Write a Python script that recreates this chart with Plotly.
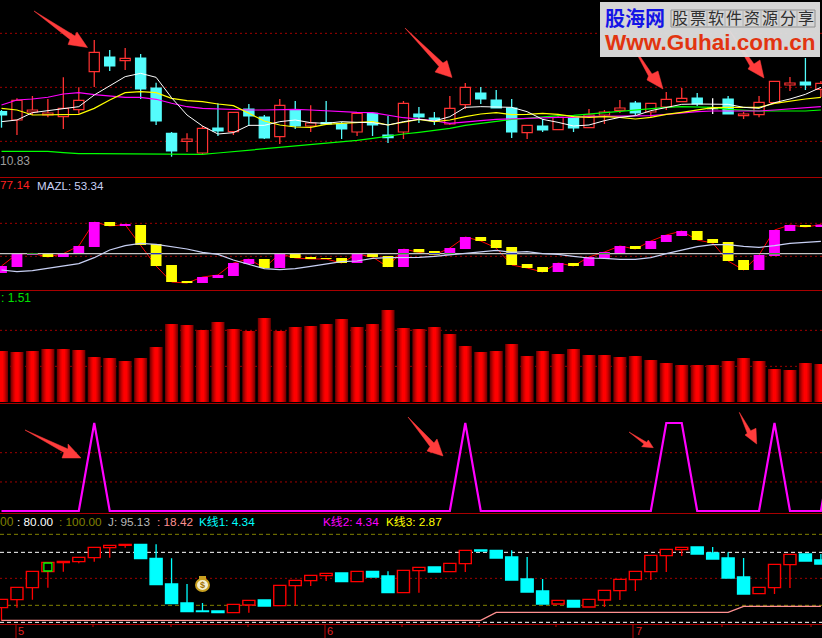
import plotly.graph_objects as go

# ---------- price panel ----------
kind1 = ["C","R","R","R","R","R","R","C","R","C","C","C","R","R","C","R","C","C","R","C","R","C","C","R","C","C","R",
         "C","C","R","R","C","C","C","R","C","R","C","R","R","R","C","R","R","R","C","W","C","R","R","R","R","C","R"]
top1 = [196,230,201,192,206,230,374,360,356,357,267,131,114,146,147,194,204,180,215,202,162,163,159,191,191,126,221,
        189,177,206,269,252,231,207,155,153,179,179,186,195,207,222,221,233,236,237,207,234,189,224,287,282,285,281]
bot1 = [186,171,195,186,181,202,316,333,349,264,168,78,107,72,138,136,183,117,121,153,153,159,144,135,156,118,135,
        180,169,159,217,234,207,135,133,141,142,147,148,186,200,192,195,210,226,219,205,189,184,187,223,276,276,263]
high1 = [201,236,243,234,299,269,411,381,387,369,283,135,131,153,221,194,219,186,234,228,215,228,166,195,195,183,228,
         210,195,243,282,270,261,234,155,174,186,186,204,201,231,228,221,255,267,252,236,243,195,243,287,300,357,288]
low1 = [148,126,186,179,144,190,270,318,321,234,156,61,75,68,123,126,153,114,99,144,135,156,114,123,123,102,114,
        162,156,156,204,219,207,117,114,135,142,135,148,159,192,186,179,201,226,213,189,189,174,179,223,258,261,240]
ma_white = [166,171,193,199,206,211,246,273,301,311,299,238,186,153,129,133,155,155,166,171,163,161,166,164,163,156,166,
            173,168,181,209,211,211,209,196,173,164,153,156,169,179,184,199,209,218,219,219,218,209,206,223,234,248,269]
ma_yellow = [206,201,186,186,186,188,206,231,253,256,253,236,229,226,219,214,191,168,156,150,149,158,161,164,166,156,165,
             173,166,171,181,189,193,187,188,191,188,181,179,181,179,174,179,188,194,201,208,209,209,209,221,228,234,239]
ma_magenta = [216,231,234,239,249,253,247,242,239,239,233,221,211,206,204,203,201,201,203,203,201,198,196,194,193,185,178,
              174,169,161,166,169,173,175,176,178,179,179,182,182,182,184,184,188,193,196,198,198,198,198,201,204,207,211]
ma_green = [77,77,77,77,73,70,70,70,70,70,70,68,68,68,72,76,81,86,90,94,98,101,104,110,116,123,129,
            134,139,146,155,161,168,173,176,181,184,185,189,194,198,203,205,209,211,211,209,203,200,198,198,198,198,201]

# ---------- MAZL panel ----------
kind2 = ["M","M","M","Y","M","M","M","Y","M","Y","Y","Y","Y","M","M","M","M","Y","M","Y","Y","Y","Y","M","Y","Y","M",
         "Y","Y","M","M","Y","Y","Y","Y","Y","M","Y","M","M","M","Y","M","M","M","Y","Y","Y","Y","M","M","M","Y","M"]
top2 = [72,108,110,109,109,132,204,204,196,195,138,75,27,39,45,81,93,93,109,108,99,96,96,108,108,102,123,
        123,117,126,159,159,150,129,78,69,81,81,99,114,132,132,147,165,177,177,153,144,90,105,180,195,195,196]
bot2 = [51,69,105,99,99,109,129,192,193,135,72,24,21,21,36,42,78,66,66,96,93,93,81,81,99,69,69,
        113,105,105,123,147,126,75,66,54,54,72,72,96,110,123,123,144,162,150,141,87,60,60,102,177,189,189]
mazl = [60,55,58,65,71,79,97,120,133,140,137,131,123,113,107,90,77,64,61,64,71,78,85,87,95,97,97,
        98,101,105,109,115,119,113,115,109,107,101,96,95,92,92,97,109,120,130,136,136,131,128,133,140,143,146]

# ---------- volume panel ----------
volume = [153,150,153,159,159,156,135,132,123,132,165,234,231,216,240,219,213,252,213,225,228,234,249,225,234,276,222,
          219,225,204,168,150,153,174,138,153,144,159,141,141,135,138,126,117,111,111,111,123,132,123,99,96,117,114]

# ---------- signal panel ----------
signal = [0,0,0,0,0,0,1,0,0,0,0,0,0,0,0,0,0,0,0,0,0,0,0,0,0,0,0,0,0,0,1,0,0,0,0,0,0,0,0,0,0,0,0,1,1,0,0,0,0,0,1,0,0,0,1]

# ---------- KDJ panel ----------
kind5 = ["R","R","R","R","R","R","R","R","R","C","C","C","C","C","C","R","R","C","R","R","R","R","C","R","C","C","R",
         "R","C","R","R","C","C","C","C","C","R","C","R","R","R","R","R","R","R","C","C","C","C","R","R","R","C","C"]
top5 = [74,110,158,185,188,200,230,236,239,239,197,120,63,39,39,59,71,72,116,131,146,152,153,158,158,144,161,
        170,171,182,221,222,221,201,135,99,71,71,74,101,134,158,206,224,230,231,213,198,141,110,179,209,210,192]
bot5 = [49,73,109,157,184,187,199,229,236,196,118,61,37,37,34,34,57,54,55,115,130,145,127,127,141,94,94,
        160,156,157,181,219,198,132,96,60,60,51,51,72,100,133,157,205,223,210,195,138,90,91,109,178,189,180]
high5 = [74,110,158,185,188,200,230,236,239,239,239,197,120,63,39,59,71,72,116,131,146,152,153,158,158,158,161,
         170,171,182,221,222,221,221,201,135,71,71,74,101,134,158,206,224,230,231,231,215,198,110,179,209,210,210]
low5 = [10,49,73,109,157,182,187,199,229,196,118,61,37,37,34,34,34,54,55,55,114,129,127,127,141,94,94,
        94,156,157,156,219,198,132,96,60,60,51,51,51,72,99,132,156,204,210,195,138,90,91,90,108,189,180]
level5 = [11]*32 + [35]*16 + [53]*6

# ---------- text ----------
axis_labels = ["5", "6", "7"]
logo_cn = "股海网"
logo_cells = list("股票软件资源分享")
logo_url = "Www.Guhai.com.cn"

W, H = 822, 638
FONT = "Liberation Sans, Noto Sans CJK SC, sans-serif"
n = len(top1)
xs = list(range(n))
XR = [-1.5 / 15.46, (W - 1.5) / 15.46]

def px(x): return x / W
def py(y): return 1 - y / H
def dom(t, b): return [1 - b / H, 1 - t / H]

fig = go.Figure()

def wicks(tops, bots, highs, lows, kinds, want):
    wx, wy = [], []
    for i in xs:
        if kinds[i] != want:
            continue
        if highs[i] > tops[i]:
            wx += [i, i, None]; wy += [tops[i], highs[i], None]
        if lows[i] < bots[i]:
            wx += [i, i, None]; wy += [bots[i], lows[i], None]
    return wx, wy

def candles(tops, bots, highs, lows, kinds, axis, width, lw, pal):
    fill = [pal[k][0] for k in kinds]
    edge = [pal[k][1] for k in kinds]
    fig.add_bar(x=xs, y=[a - b for a, b in zip(tops, bots)], base=bots, width=width, yaxis=axis,
                marker=dict(color=fill, line=dict(color=edge, width=lw)))
    for k in pal:
        wx, wy = wicks(tops, bots, highs, lows, kinds, k)
        if wx:
            fig.add_scatter(x=wx, y=wy, mode="lines", yaxis=axis,
                            line=dict(color=pal[k][1], width=1.3))

# Panel 1
candles(top1, bot1, high1, low1, kind1, "y", 0.66, 1.2,
        {"R": ("#000000", "#ff3232"), "C": ("#54fcfc", "#54fcfc"), "W": ("#ffffff", "#ffffff")})
for vals, col, w in [(ma_green, "#00ff00", 1.2), (ma_magenta, "#ff00ff", 1.1),
                     (ma_yellow, "#ffff00", 1.2), (ma_white, "#ffffff", 1.0)]:
    fig.add_scatter(x=xs, y=vals, mode="lines", yaxis="y", line=dict(color=col, width=w))

# Panel 2: close line on the base axis, bars above it on an overlay axis
close2 = [t if k == "M" else b for t, b, k in zip(top2, bot2, kind2)]
fig.add_scatter(x=xs, y=close2, mode="lines", yaxis="y2", line=dict(color="#ff0000", width=1))
fig.add_bar(x=xs, y=[a - b for a, b in zip(top2, bot2)], base=bot2, width=0.7, yaxis="y6",
            marker=dict(color=["#ff00ff" if k == "M" else "#ffff00" for k in kind2], line=dict(width=0)))
ZERO2 = 109
fig.add_scatter(x=[-1, 60], y=[ZERO2, ZERO2], mode="lines", yaxis="y6", line=dict(color="#c4c4c4", width=1.3))
for want, col in [("M", "#2f9f2f"), ("Y", "#2030c0")]:
    sx, sy = [], []
    for i in xs:
        if kind2[i] == want and bot2[i] < ZERO2 < top2[i]:
            sx += [i - 0.35, i + 0.35, None]; sy += [ZERO2, ZERO2, None]
    fig.add_scatter(x=sx, y=sy, mode="lines", yaxis="y6", line=dict(color=col, width=1.3))
fig.add_scatter(x=xs, y=mazl, mode="lines", yaxis="y6", line=dict(color="#c8d0f4", width=1.2))

# Panel 3: overlaid bars of falling width give the cylinder shading
for wd, col in [(0.84, "#7a0000"), (0.72, "#960000"), (0.6, "#b40000"), (0.48, "#d00000"), (0.36, "#e80000"), (0.22, "#ff0000")]:
    fig.add_bar(x=xs, y=volume, width=wd, yaxis="y3", marker=dict(color=col, line=dict(width=0)))

# Panel 4
fig.add_scatter(x=list(range(len(signal))), y=signal, mode="lines", yaxis="y4", line=dict(color="#ff00ff", width=2.2))

# Panel 5
candles(top5, bot5, high5, low5, kind5, "y5", 0.78, 1.4,
        {"R": ("#000000", "#ff0000"), "C": ("#00ffff", "#00ffff")})
fig.add_scatter(x=xs, y=level5, mode="lines", yaxis="y5", line=dict(color="#ff9090", width=1.4))
fig.add_scatter(x=[3], y=[171], mode="markers", yaxis="y5",
                marker=dict(symbol="square-open", size=8, color="#00ff00", line=dict(color="#00ff00", width=1.3)))

shapes = []
def grid(axis, val, col, dash="2px,3px", w=1):
    shapes.append(dict(type="line", xref="paper", yref=axis, x0=0, x1=1, y0=val, y1=val, layer="below",
                       line=dict(color=col, width=w, dash=dash)))

DOT = "#a00000"
for v in (431, 269, 107): grid("y", v, DOT)
for v in (200, 101): grid("y6", v, DOT)
for v in (215, 107): grid("y3", v, DOT)
for v in (0.6625, 0.33): grid("y4", v, DOT)
grid("y5", 137, DOT)
for v in (269, 56): grid("y5", v, "#808000", "4px,3px")
for v in (215, 5): grid("y5", v, "#ffffff", "4px,3px")

# panel separators
for y in (177.5, 290.5, 403.5, 513.5, 624.5):
    shapes.append(dict(type="line", xref="paper", yref="paper", x0=0, x1=1, y0=py(y), y1=py(y),
                       line=dict(color="#a80000", width=1)))
# date ticks
for x in (16, 325, 633):
    shapes.append(dict(type="line", xref="paper", yref="paper", x0=px(x), x1=px(x), y0=py(624), y1=py(638),
                       line=dict(color="#c00000", width=1)))
for x in (93, 171, 248, 402, 479, 556, 722, 811):
    shapes.append(dict(type="line", xref="paper", yref="paper", x0=px(x), x1=px(x), y0=py(624), y1=py(627),
                       line=dict(color="#c00000", width=1)))

# hand-drawn arrows
arrows = [
    [(34, 11), (75, 36), (77, 32), (87.5, 47.5), (68, 44.5), (70, 39.5)],
    [(405, 28), (443, 63), (447, 60.5), (452, 77.5), (435, 72), (439, 66.5)],
    [(631, 43), (652, 74), (658, 71), (663, 89), (647, 80), (648.5, 76)],
    [(728, 28), (754, 64), (760, 60), (764, 78), (748, 69), (750, 66)],
    [(25, 430), (68, 449), (68, 444), (81, 458), (62, 458), (64, 452.5)],
    [(408, 417), (434, 443), (437, 439), (443, 456), (427, 451), (430, 446.5)],
    [(629, 432), (646.7, 442.3), (648.3, 440), (653.3, 447.7), (641.7, 446.7), (644, 444)],
    [(739.3, 412.3), (750.7, 430.7), (756, 428.3), (756.7, 444), (745, 435), (747.3, 433.3)],
]
for a in arrows:
    path = "M " + " L ".join(f"{px(x):.5f} {py(y):.5f}" for x, y in a) + " Z"
    shapes.append(dict(type="path", xref="paper", yref="paper", path=path, fillcolor="#ff3c3c",
                       line=dict(color="#ff3c3c", width=0.5)))

# money bag
shapes.append(dict(type="circle", xref="paper", yref="paper", x0=px(196), x1=px(209), y0=py(591), y1=py(579),
                   fillcolor="#f4f0d0", line=dict(color="#c8a020", width=2)))
shapes.append(dict(type="rect", xref="paper", yref="paper", x0=px(199), x1=px(206), y0=py(579), y1=py(576),
                   fillcolor="#c8a020", line=dict(width=0)))

# watermark plate
shapes.append(dict(type="rect", xref="paper", yref="paper", x0=px(600), x1=px(820), y0=py(57), y1=py(2),
                   fillcolor="#dedede", opacity=0.96, line=dict(width=0)))
shapes.append(dict(type="rect", xref="paper", yref="paper", x0=px(671), x1=px(815), y0=py(27), y1=py(10),
                   line=dict(color="#909090", width=1)))
for c in range(1, 8):
    shapes.append(dict(type="line", xref="paper", yref="paper", x0=px(671 + 18 * c), x1=px(671 + 18 * c), y0=py(27), y1=py(10),
                       line=dict(color="#b0b0b0", width=1)))

ann = []
def text(x, y, s, col, size=12, anchor="left", bold=False):
    ann.append(dict(xref="paper", yref="paper", x=px(x), y=py(y), text=f"<b>{s}</b>" if bold else s, showarrow=False,
                    xanchor=anchor, yanchor="middle", font=dict(family=FONT, size=size, color=col)))

text(-2, 161, "10.83", "#9c9c9c", 12)
text(-2, 185, "77.14", "#ff2020", 11.8)
text(35, 185, "MAZL: 53.34", "#c8d0f4", 11.6)
text(-1, 298, ": 1.51", "#00e000", 12)
text(-2, 522, "00", "#808000", 12)
text(15, 522, ": 80.00", "#ffffff", 11.8)
text(57, 522, ": 100.00", "#808000", 11.8)
text(106, 522, "J: 95.13", "#b8b8b8", 11.8)
text(155, 522, ": 18.42", "#ff9090", 11.8)
text(197, 522, "K线1: 4.34", "#00ffff", 11.8)
text(321, 522, "K线2: 4.34", "#ff00ff", 11.8)
text(384, 522, "K线3: 2.87", "#ffff00", 11.8)
for lab, x in zip(axis_labels, (16, 325, 634)):
    text(x, 630.5, lab, "#e02020", 11)
text(202.5, 585, "$", "#a07000", 9, "center", True)
text(603, 19, logo_cn, "#1414e6", 20, "left", True)
for c, ch in enumerate(logo_cells):
    text(680 + 18 * c, 18.5, ch, "#303030", 16, "center")
text(603, 42, logo_url, "#e23410", 22.5, "left", True)

hidden = dict(visible=False, fixedrange=True)
fig.update_layout(
    width=W, height=H, margin=dict(l=0, r=0, t=0, b=0), autosize=False,
    paper_bgcolor="#000000", plot_bgcolor="#000000", showlegend=False, barmode="overlay",
    xaxis=dict(range=XR, **hidden),
    yaxis=dict(domain=dom(0, 177), range=[0, 531], **hidden),
    yaxis2=dict(domain=dom(177, 290), range=[0, 339], **hidden),
    yaxis3=dict(domain=dom(290, 402), range=[0, 336], **hidden),
    yaxis4=dict(domain=dom(403, 513), range=[-2 / 88, 110 / 88 - 2 / 88], **hidden),
    yaxis5=dict(domain=dom(513.5, 624), range=[0, 331.5], **hidden),
    yaxis6=dict(domain=dom(177, 290), range=[0, 339], overlaying="y2", **hidden),
    shapes=shapes, annotations=ann,
)
fig.update_traces(hoverinfo="skip")
fig.write_html("out.html", config=dict(displayModeBar=False),
               post_script="document.body.style.margin='0';document.documentElement.style.overflow='hidden';")
